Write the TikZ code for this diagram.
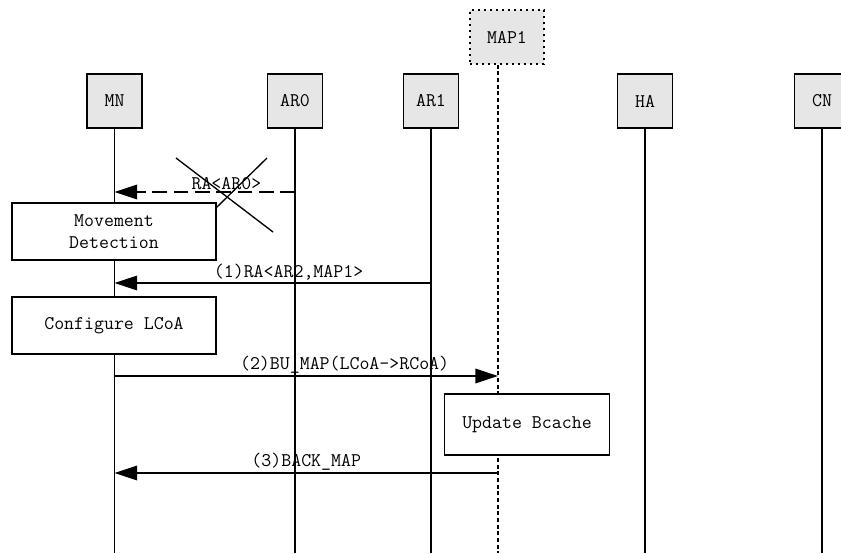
\documentclass[tikz,border=0pt]{standalone}
\usepackage{tikz}
\usetikzlibrary{arrows.meta,positioning}
\definecolor{headgray}{HTML}{E6E6E6}
\newcommand{\seqfont}{\fontsize{14.5}{17}\selectfont\ttfamily}

\begin{document}
\begin{tikzpicture}[x=0.75pt, y=-0.75pt,
    head/.style={rectangle, draw, line width=1.2pt, fill=headgray, minimum width=41.25pt, minimum height=40.5pt, font=\seqfont},
    proc/.style={rectangle, draw, line width=1.2pt, fill=white, align=center, font=\seqfont},
    life/.style={line width=1pt},
    msg/.style={-{Triangle[length=17pt, width=11pt]}, line width=1pt},
    lbl/.style={above, inner sep=1.5pt, font=\seqfont}
]
    \useasboundingbox (0,0) rectangle (841,553);
    \coordinate (bottom) at (0,553);

    % Entities
    \node[head] (MN) at (114.5,101) {MN};
    \node[head] (AR0) at (295,101) {AR0};
    \node[head] (AR1) at (431,101) {AR1};
    \node[head, minimum width=55.5pt, dash pattern=on 1.5pt off 3pt] (MAP1) at (507,37) {MAP1};
    \node[head] (HA) at (645,101) {HA};
    \node[head] (CN) at (822,101) {CN};
    \coordinate (MAPlife) at ([xshift=-6.75pt]MAP1.south);

    % Lifelines
    \foreach \n in {MN,AR0,AR1,HA,CN}
        \draw[life] (\n.south) -- (\n.south |- bottom);
    \draw[life, dash pattern=on 3pt off 2pt] (MAPlife) -- (MAPlife |- bottom);

    % Local actions
    \node[proc, minimum width=153pt, minimum height=42.75pt] (Move) at (114,231.5) {Movement\\Detection};
    \node[proc, minimum width=153pt, minimum height=42.75pt] (Conf) at (114,325.5) {Configure LCoA};
    \node[proc, minimum width=123.75pt, minimum height=45.75pt] (Upd) at (527,424.5) {Update Bcache};

    % Messages
    \draw[msg, dash pattern=on 11pt off 5pt] (AR0 |- 0,192) -- node[lbl, pos=0.38] {RA<AR0>} (MN |- 0,192);
    \draw[msg] (AR1 |- 0,283) -- node[lbl, pos=0.45] {(1)RA<AR2,MAP1>} (MN |- 0,283);
    \draw[msg] (MN |- 0,376) -- node[lbl, pos=0.6] {(2)BU\_MAP(LCoA->RCoA)} (MAPlife |- 0,376);
    \draw[msg] (MAPlife |- 0,473) -- node[lbl, pos=0.5] {(3)BACK\_MAP} (MN |- 0,473);

    % Lost RA
    \draw[line width=1pt] (176,158) -- (273,232);
    \draw[line width=1pt] (267,158) -- (216,208);

\end{tikzpicture}
\end{document}
